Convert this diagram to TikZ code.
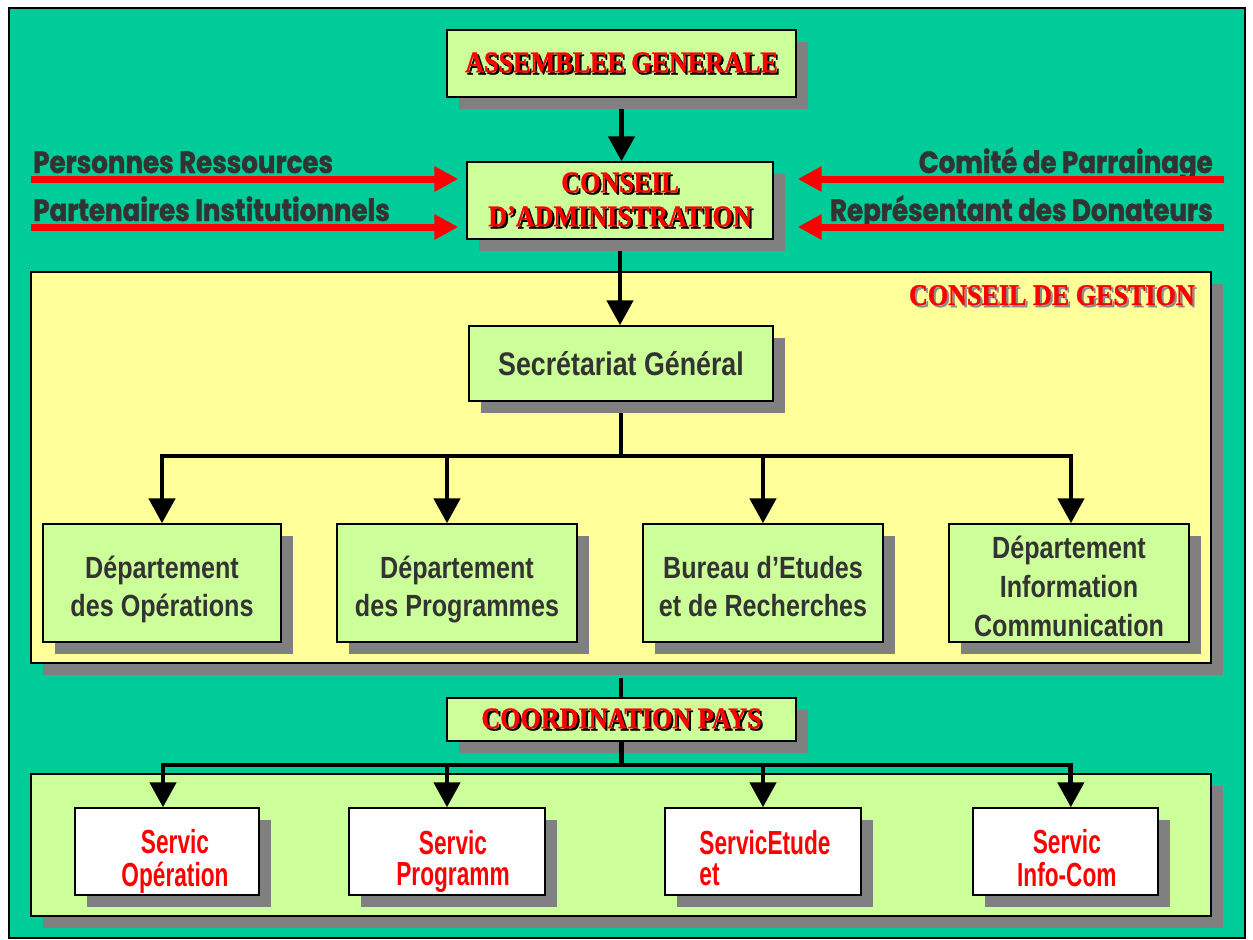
\documentclass[tikz,border=0pt]{standalone}
\usepackage{fontspec}
\setmainfont{Liberation Sans}
\newfontfamily\stencilfont{Liberation Serif}[FakeStretch=0.87,FakeBold=1]
\newfontfamily\condfont{Liberation Sans}[FakeStretch=0.68]
\newfontfamily\narrowfont{Liberation Sans}[FakeStretch=0.82]
\newfontfamily\sidefont{Poppins}[FakeStretch=0.85,FakeBold=1.5]
\usetikzlibrary{arrows.meta,shadows,calc}
\definecolor{teal0}{HTML}{00CC99}
\definecolor{lgreen}{HTML}{CCFF99}
\definecolor{lyellow}{HTML}{FFFF99}
\definecolor{shgray}{HTML}{808080}
\definecolor{txtgray}{HTML}{333333}
\newcommand\shd[2][black]{\leavevmode\rlap{\kern1.6pt\raisebox{-1.6pt}{\textcolor{#1}{#2}}}\textcolor{red}{#2}}
% lines block: #1 downward shift, #2 left pad, #3 column type, #4 text
\newcommand\tb[4]{\raisebox{-#1}[\height][\depth]{\begin{tabular}{@{\hspace{#2}}#3@{}}#4\end{tabular}}}
\pgfdeclarelayer{back}
\pgfdeclarelayer{mid}
\pgfsetlayers{back,mid,main}
\tikzset{
  shad/.style={drop shadow={shadow xshift=9pt, shadow yshift=-9pt, fill=shgray, opacity=1}},
  box/.style={draw=black, line width=1.1pt, fill=lgreen, shad, inner sep=2pt, align=center},
  head/.style={font=\stencilfont\bfseries\fontsize{22.5}{25.5}\selectfont},
  dept/.style={box, inner ysep=0pt, font=\narrowfont\bfseries\fontsize{23}{28.5}\selectfont, text=txtgray, minimum width=180pt, minimum height=88.5pt},
  serv/.style={box, fill=white, font=\condfont\bfseries\fontsize{25}{21.75}\selectfont, text=red, minimum height=65.25pt},
  region/.style={draw=black, line width=1.1pt, shad, inner sep=0pt, minimum width=885pt},
  conn/.style={draw=black, line width=3.6pt},
  arr/.style={conn, -{Triangle[width=19.5pt,length=18.75pt]}},
  redarr/.style={draw=red, line width=5.25pt, -{Triangle[width=18pt,length=18pt]}},
  side/.style={font=\sidefont\bfseries\fontsize{23}{23}\selectfont, text=txtgray, inner sep=0pt},
}
\begin{document}
\begin{tikzpicture}[x=0.75pt,y=-0.75pt]
\useasboundingbox (0,0) rectangle (1253,939);
\begin{pgfonlayer}{back}
\fill[white] (0,0) rectangle (1253,939);
\draw[fill=teal0, line width=1.5pt] (9,8) rectangle (1245,938);
\node[region, fill=lyellow, minimum height=293.25pt] (gestion) at (621,467.5) {};
\node[region, fill=lgreen, minimum height=106.5pt] (bottom) at (621,845) {};
\end{pgfonlayer}

% boxes
\node[box, head, minimum width=261.75pt, minimum height=50.25pt] (ag) at (621.5,63.5) {\shd{ASSEMBLEE GENERALE}};
\node[box, head, minimum width=229.5pt, minimum height=57.75pt] (ca) at (620,200.5) {\shd{CONSEIL}\\\shd{D’ADMINISTRATION}};
\node[head, anchor=base east, inner sep=0pt] (cdg) at (1195,305) {\shd[black!45]{CONSEIL DE GESTION}};
\node[box, font=\narrowfont\bfseries\fontsize{24.5}{28}\selectfont, text=txtgray, minimum width=228pt, minimum height=56.25pt] (secr) at (621,363.5) {Secrétariat Général};
\node[dept, minimum width=178.5pt] (d1) at (162,583) {\tb{5.5pt}{0pt}{c}{Département\\des Opérations}};
\node[dept] (d2) at (457,583) {\tb{5.5pt}{0pt}{c}{Département\\des Programmes}};
\node[dept] (d3) at (763,583) {\tb{5.5pt}{0pt}{c}{Bureau d’Etudes\\et de Recherches}};
\node[dept, font=\narrowfont\bfseries\fontsize{23}{29}\selectfont] (d4) at (1069,583) {\tb{5pt}{0pt}{c}{Département\\Information\\Communication}};
\node[box, head, minimum width=261.75pt, minimum height=32.25pt] (coord) at (621.5,719.5) {\shd{COORDINATION PAYS}};
\node[serv, minimum width=138pt] (s1) at (167,851.5) {\tb{8pt}{12pt}{c}{Servic\\Opération}};
\node[serv, minimum width=147pt] (s2) at (447,851.5) {\tb{8pt}{9pt}{c}{Servic\\Programm}};
\node[serv, minimum width=147pt] (s3) at (763,851.5) {\tb{8pt}{3pt}{l}{ServicEtude\\et}};
\node[serv, minimum width=138.75pt] (s4) at (1065.5,851.5) {\tb{8pt}{2pt}{c}{Servic\\Info-Com}};

% connectors
\coordinate (b1) at (621,456);
\coordinate (b2) at (621,765);
\begin{pgfonlayer}{mid}
\draw[arr] (ag.south) -- (ag.south |- ca.north);
\draw[arr] (ca.south) -- (ca.south |- secr.north);
\draw[conn] (secr.south) -- (b1);
\draw[arr] (b1) -| (d1.north);
\draw[arr] (b1) -| ($(d4.north)+(1.5pt,0)$);
\draw[arr] (b1 -| d2.north) ++(-7.5pt,0) -- ($(d2.north)+(-7.5pt,0)$);
\draw[arr] (b1 -| d3.north) -- (d3.north);
\draw[conn] ($(gestion.south)+(0,-10.5pt)$) -- (gestion.south |- coord.north);
\draw[arr] (b2) -| ($(s1.north)+(-3pt,0)$);
\draw[arr] (b2) -| ($(s4.north)+(4pt,0)$);
\draw[arr] (b2 -| s2.north) -- (s2.north);
\draw[arr] (b2 -| s3.north) -- (s3.north);
\end{pgfonlayer}
\draw[conn] (coord.south) -- (coord.south |- b2);

% side inputs
\node[side, anchor=base west] (pr) at (33,173) {Personnes Ressources};
\node[side, anchor=base west] (pi) at (33,221) {Partenaires Institutionnels};
\node[side, anchor=base east] (cp) at (1213,173) {Comité de Parrainage};
\node[side, anchor=base east] (rd) at (1213,221) {Représentant des Donateurs};
\coordinate (l1) at (31,179);
\coordinate (l2) at (31,227);
\coordinate (r1) at (1224,179);
\coordinate (r2) at (1224,227);
\draw[redarr] (l1) -- ($(ca.west |- l1)+(-6pt,0)$);
\draw[redarr] (l2) -- ($(ca.west |- l2)+(-6pt,0)$);
\draw[redarr] (r1) -- ($(ca.east |- r1)+(18pt,0)$);
\draw[redarr] (r2) -- ($(ca.east |- r2)+(18pt,0)$);
\end{tikzpicture}
\end{document}
